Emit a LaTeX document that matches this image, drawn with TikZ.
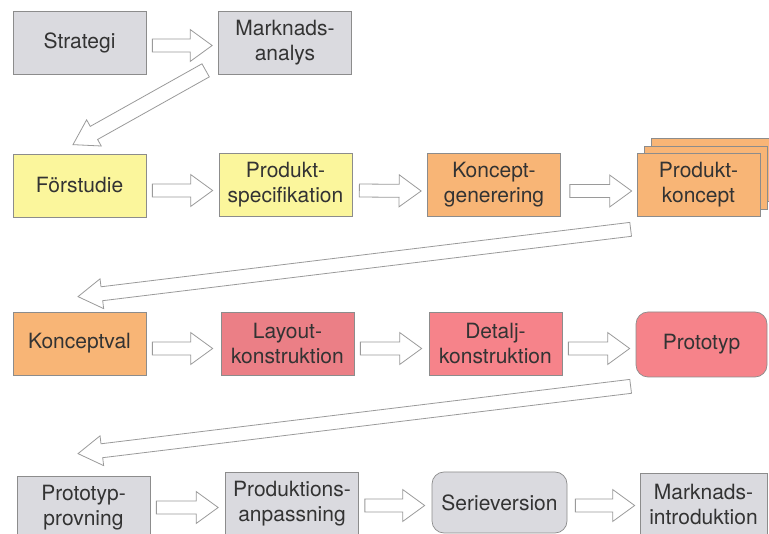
\documentclass[tikz,border=0pt]{standalone}
\usepackage{fontspec}
\setmainfont{TeX Gyre Heros}
\usetikzlibrary{calc}
\definecolor{bxgray}{HTML}{DADADF}
\definecolor{bxyel}{HTML}{FBF69C}
\definecolor{bxora}{HTML}{F8B576}
\definecolor{bxredA}{HTML}{EB7F86}
\definecolor{bxredB}{HTML}{F6838A}
\definecolor{edgec}{HTML}{8C8C8C}
\definecolor{txtc}{HTML}{333333}
\definecolor{arrc}{HTML}{9A9A9A}
\tikzset{
  box/.style={draw=edgec, line width=0.7pt, minimum height=63pt, minimum width=133pt,
    align=center, text=txtc, font=\fontsize{21}{25}\selectfont, inner sep=0pt},
  rbox/.style={box, rounded corners=12pt},
  barrow/.style={draw=arrc, fill=white, line width=0.8pt, line join=miter}
}
% start, end, shaft half width, head half width, head length
\newcommand{\blkarrow}[5]{%
  \path let \p1=(#1), \p2=(#2), \n1={atan2(\y2-\y1,\x2-\x1)}, \n2={veclen(\x2-\x1,\y2-\y1)} in
  [barrow, shift={(\p1)}, rotate=\n1]
  (0,-#3) -- ({\n2-#5},-#3) -- ({\n2-#5},-#4) -- (\n2,0) -- ({\n2-#5},#4) -- ({\n2-#5},#3) -- (0,#3) -- cycle;}
\begin{document}
\begin{tikzpicture}[x=1pt,y=1pt]
\useasboundingbox (0,0) rectangle (769,-534);
\clip (0,0) rectangle (769,-534);
% row 1
\node[box, fill=bxgray] (strat) at (79.5,-42.5) {Strategi};
\node[box, fill=bxgray] (mark) at (285,-42.5) {Marknads-\\analys};
% row 2
\node[box, fill=bxyel] (fors) at (79.5,-185.5) {Förstudie};
\node[box, fill=bxyel] (pspec) at (285.5,-184.5) {Produkt-\\specifikation};
\node[box, fill=bxora] (kgen) at (494,-185) {Koncept-\\generering};
\node[box, fill=bxora, minimum width=123pt] (pkc) at (712.5,-170) {};
\node[box, fill=bxora, minimum width=123pt] (pkb) at (705.5,-177.5) {};
\node[box, fill=bxora, minimum width=123pt] (pkon) at (698.5,-185) {Produkt-\\koncept};
% row 3
\node[box, fill=bxora] (kval) at (79.5,-343.5) {Konceptval};
\node[box, fill=bxredA] (layout) at (287.5,-343.5) {Layout-\\konstruktion};
\node[box, fill=bxredB] (detalj) at (495.5,-343.5) {Detalj-\\konstruktion};
\node[rbox, fill=bxredB, minimum width=131pt, minimum height=65pt] (proto) at (701.5,-344.5) {Prototyp};
% row 4
\node[box, fill=bxgray] (pprov) at (83.5,-507.5) {Prototyp-\\provning};
\node[box, fill=bxgray] (panp) at (292,-503.5) {Produktions-\\anpassning};
\node[rbox, fill=bxgray, minimum width=135pt, minimum height=61pt] (serie) at (499.5,-502.5) {Serieversion};
\node[box, fill=bxgray, minimum width=127pt] (mintro) at (703.5,-504.5) {Marknads-\\introduktion};
% horizontal arrows
\blkarrow{$(strat.east)+(6,-3)$}{$(mark.west)+(-6,-3)$}{6.5}{16}{22}
\blkarrow{$(fors.east)+(6,-5)$}{$(pspec.west)+(-6,-6)$}{6.5}{16}{22}
\blkarrow{$(pspec.east)+(7,-6)$}{$(kgen.west)+(-6,-6)$}{6.5}{16}{22}
\blkarrow{$(kgen.east)+(9,-6)$}{$(pkon.west)+(-5,-6)$}{6.5}{16}{22}
\blkarrow{$(kval.east)+(6,-5)$}{$(layout.west)+(-8,-5)$}{6.5}{16}{22}
\blkarrow{$(layout.east)+(6,-5)$}{$(detalj.west)+(-7,-5)$}{6.5}{16}{22}
\blkarrow{$(detalj.east)+(6,-5)$}{$(proto.west)+(-6,-4)$}{6.5}{16}{22}
\blkarrow{$(pprov.east)+(6,0)$}{$(panp.west)+(-7,-4)$}{6.5}{16}{22}
\blkarrow{$(panp.east)+(6,-2)$}{$(serie.west)+(-7,-3)$}{6.5}{16}{22}
\blkarrow{$(serie.east)+(8,-3)$}{$(mintro.west)+(-5,-1)$}{6.5}{16}{22}
% diagonal arrows
\coordinate (t1) at ($(mark.south west)+(-12.5,4)$);
\coordinate (h1) at ($(fors.north)+(-6.5,9)$);
\blkarrow{t1}{h1}{7.5}{15}{24}
\coordinate (t2) at ($(pkon.south west)+(-6,-12.5)$);
\coordinate (h2) at ($(kval.north)+(-1.5,15)$);
\blkarrow{t2}{h2}{7}{15}{24}
\coordinate (t3) at ($(proto.south west)+(-5,-9)$);
\coordinate (h3) at ($(pprov.north)+(-5.5,22)$);
\blkarrow{t3}{h3}{7}{15}{24}
\end{tikzpicture}
\end{document}
